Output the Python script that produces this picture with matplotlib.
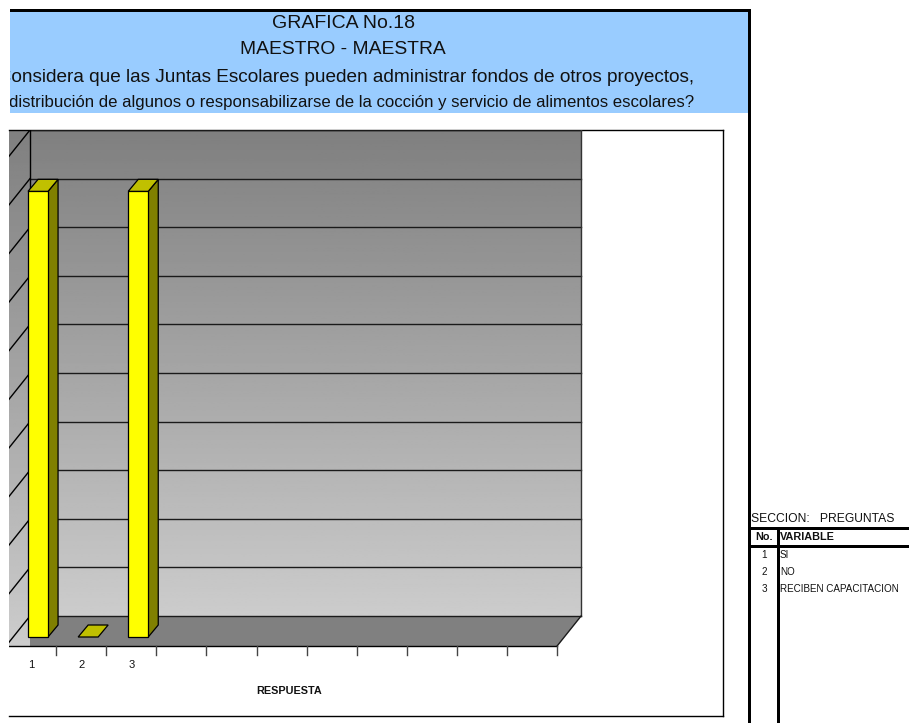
import matplotlib
matplotlib.use('Agg')
import matplotlib.pyplot as plt
import numpy as np
from matplotlib.patches import Polygon, Rectangle

plt.rcParams['font.family'] = ['Liberation Sans', 'DejaVu Sans']

# data
categories = ['1', '2', '3', '', '', '', '', '', '', '', '']
values = [91.7, 0, 91.7, 0, 0, 0, 0, 0, 0, 0, 0]
grid_values = [0, 10, 20, 30, 40, 50, 60, 70, 80, 90, 100]
title_lines = ['GRAFICA No.18', 'MAESTRO - MAESTRA']
question_1 = '¿Considera que las Juntas Escolares pueden administrar fondos de otros proyectos,'
question_2 = 'distribución de algunos o responsabilizarse de la cocción y servicio de alimentos escolares?'
table_section = 'SECCION:   PREGUNTAS'
table_no = ['1', '2', '3']
table_var = ['SI', 'NO', 'RECIBEN CAPACITACION']
xlabel = 'RESPUESTA'

W, H = 909, 723
fig = plt.figure(figsize=(W / 100, H / 100), dpi=100, facecolor='white')

# page furniture in pixel coordinates
bg = fig.add_axes([0, 0, 1, 1])
bg.set_xlim(0, W)
bg.set_ylim(H, 0)
bg.axis('off')

band = Rectangle((10, 12), 738, 101, fc='#99CCFF', ec='none')
bg.add_patch(band)
bg.add_patch(Rectangle((10, 9), 741, 3, fc='black', ec='none'))
bg.add_patch(Rectangle((748, 9), 3, 714, fc='black', ec='none'))
bg.add_patch(Rectangle((777, 528), 3, 195, fc='black', ec='none'))
bg.add_patch(Rectangle((751, 527), 158, 3, fc='black', ec='none'))
bg.add_patch(Rectangle((751, 545), 158, 3, fc='black', ec='none'))

bg.text(343, 24, title_lines[0], fontsize=14, ha='center', va='center', color='#111111')
bg.text(343, 50, title_lines[1], fontsize=13.9, ha='center', va='center', color='#111111')
# the question runs past the left edge of the band in the original
t = bg.text(694, 77, question_1, fontsize=13.7, ha='right', va='center', color='#111111')
t.set_clip_path(band)
t.set_clip_on(True)
t = bg.text(694, 102, question_2, fontsize=12.05, ha='right', va='center', color='#111111')
t.set_clip_path(band)
t.set_clip_on(True)

bg.text(751, 519, table_section, fontsize=8.75, ha='left', va='center', color='#111111')
bg.text(764, 537, 'No.', fontsize=7.8, fontweight='bold', ha='center', va='center', color='#111111')
bg.text(780, 537, 'VARIABLE', fontsize=7.8, fontweight='bold', ha='left', va='center', color='#111111')
for n, v, y in zip(table_no, table_var, [555, 572, 589]):
    bg.text(764, y, n, fontsize=7.1, ha='center', va='center', color='#111111')
    bg.text(780, y, v, fontsize=7.1, ha='left', va='center', color='#111111')

# chart area, x in category units, y in value units
px_x = 50.1
px_y = 4.86
ax = fig.add_axes([9 / W, (H - 716) / H, 714 / W, 586 / H])
ax.patch.set_alpha(0)
x0 = 0.5 + (9 - 30) / px_x
x1 = 0.5 + (723 - 30) / px_x
y0 = (616 - 716) / px_y
y1 = (616 - 130) / px_y
xs = np.arange(1, len(categories) + 1)

# oblique depth of the floor, in data units
depth_x = 24 / px_x
depth_y = 30 / px_y
floor = -depth_y

grad = np.linspace(0.5, 0.8, 256).reshape(-1, 1)
ax.imshow(grad, cmap='gray', vmin=0, vmax=1, aspect='auto', zorder=1,
          extent=[0.5, 11.5, 0, 100], origin='upper')
ax.imshow(grad, cmap='gray', vmin=0, vmax=1, aspect='auto', zorder=1,
          extent=[x0, 0.5, floor, 100], origin='upper')
ax.add_patch(Polygon([(0.5, 0), (11.5, 0), (11.5 - depth_x, floor), (0.5, floor)],
                     fc='#808080', ec='none', zorder=2))

for g in grid_values:
    ax.plot([0.5, 11.5], [g, g], color='#1a1a1a', lw=1, zorder=3)
    ax.plot([0.5, 0.5 - depth_x], [g, g - depth_y], color='black', lw=1, zorder=3)
ax.plot([0.5, 0.5], [0, 100], color='black', lw=1, zorder=3)
ax.plot([11.5, 11.5], [0, 100], color='#333333', lw=1, zorder=3)
ax.plot([11.5, 11.5 - depth_x], [0, floor], color='#1a1a1a', lw=1, zorder=3)
ax.plot([x0, 11.5 - depth_x], [floor, floor], color='black', lw=1, zorder=3)

# 3d bars
bar_w = 20 / px_x
bar_dx = 10 / px_x
bar_dy = 12 / px_y
base_x = 17 / px_x
base_y = -21 / px_y
for i, v in zip(xs[:3], values[:3]):
    left = i - base_x - bar_w / 2
    right = left + bar_w
    if v > 0:
        ax.add_patch(Polygon([(right, base_y), (right + bar_dx, base_y + bar_dy),
                              (right + bar_dx, base_y + bar_dy + v), (right, base_y + v)],
                             fc='#808000', ec='black', lw=0.9, zorder=4))
        ax.add_patch(Rectangle((left, base_y), bar_w, v, fc='#FFFF00', ec='black', lw=0.9, zorder=4))
    ax.add_patch(Polygon([(left, base_y + v), (right, base_y + v),
                          (right + bar_dx, base_y + bar_dy + v), (left + bar_dx, base_y + bar_dy + v)],
                         fc='#C0C000', ec='black', lw=0.9, zorder=4))

# ticks along the front edge
for e in np.arange(len(categories) + 1) + 0.5 - depth_x:
    ax.plot([e, e], [floor, floor - 9 / px_y], color='#444444', lw=1, zorder=3)
for i, c in zip(xs, categories):
    ax.text(i - depth_x, floor - 19.5 / px_y, c, fontsize=8, ha='center', va='center', color='#111111')
ax.text(6.15 - depth_x, floor - 44.5 / px_y, xlabel, fontsize=7.8, fontweight='bold',
        ha='center', va='center', color='#111111')

ax.set_xlim(x0, x1)
ax.set_ylim(y0, y1)
ax.set_xticks([])
ax.set_yticks([])
ax.spines['left'].set_visible(False)
for s in ['top', 'right', 'bottom']:
    ax.spines[s].set_linewidth(1)
    ax.spines[s].set_color('black')

fig.savefig('out.png', dpi=100)
